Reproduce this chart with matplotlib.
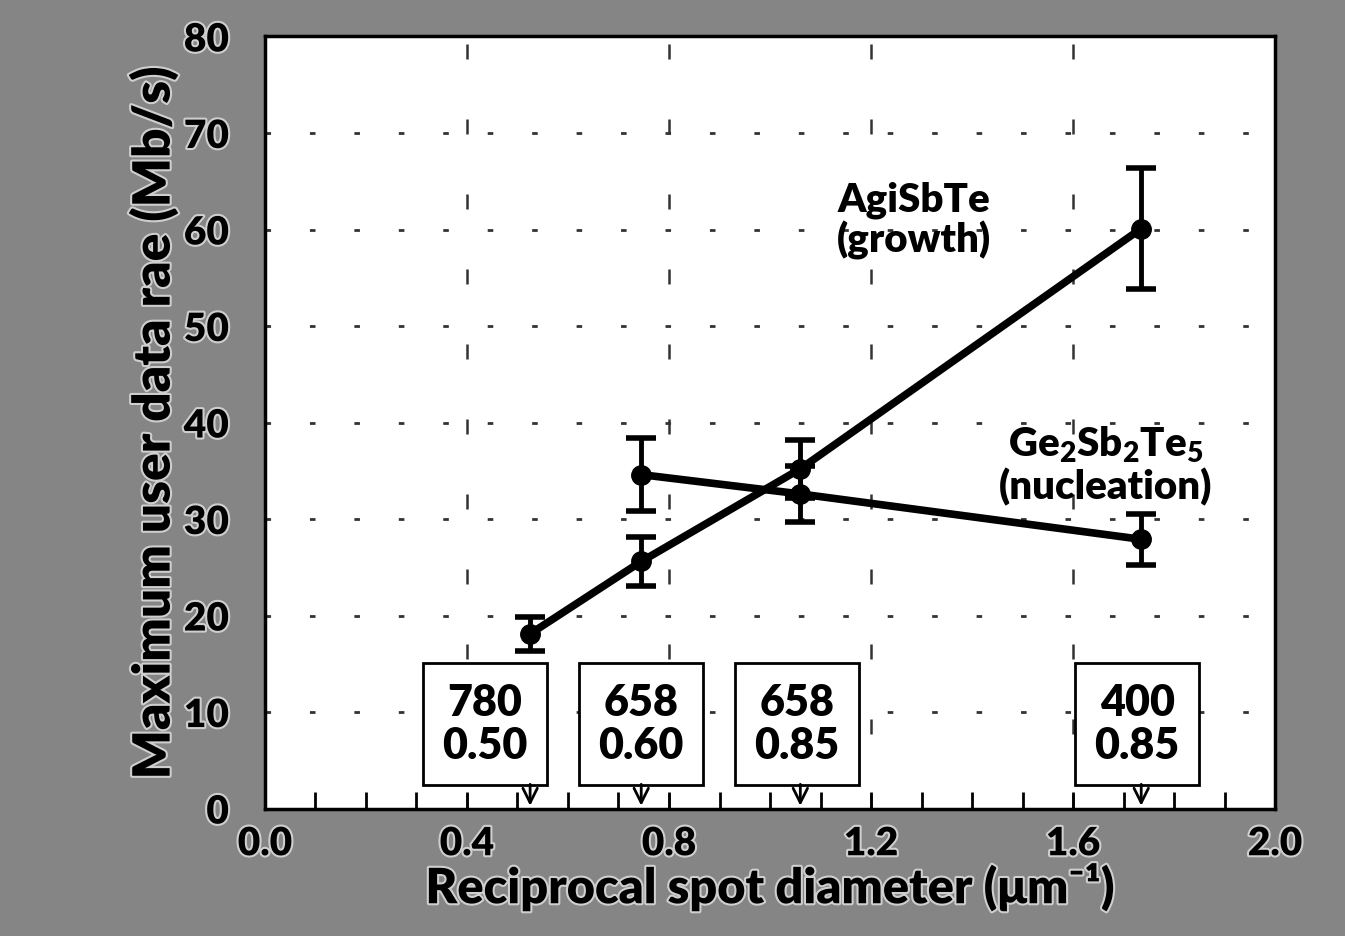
import matplotlib.pyplot as plt
import matplotlib.patheffects as pe

plt.rcParams['font.family'] = ['Lato', 'DejaVu Sans']
plt.rcParams['font.weight'] = 'heavy'
plt.rcParams['mathtext.fontset'] = 'custom'
plt.rcParams['mathtext.rm'] = 'Lato:heavy'
plt.rcParams['mathtext.bf'] = 'Lato:heavy'
plt.rcParams['mathtext.it'] = 'Lato:heavy'
plt.rcParams['mathtext.default'] = 'bf'

# Data
agi_x = [0.525, 0.745, 1.06, 1.735]
agi_y = [18.1, 25.6, 35.2, 60.1]
agi_err = [1.75, 2.55, 3.0, 6.3]

ge_x = [0.745, 1.06, 1.735]
ge_y = [34.6, 32.6, 27.9]
ge_err = [3.75, 2.9, 2.65]

# wavelength (nm) / NA boxes, with the arrow positions on the x axis
box_text = ["780\n0.50", "658\n0.60", "658\n0.85", "400\n0.85"]
box_x = [0.436, 0.745, 1.053, 1.727]
arrow_x = [0.525, 0.745, 1.06, 1.735]

x_ticks = [0.0, 0.4, 0.8, 1.2, 1.6, 2.0]
y_ticks = [0, 10, 20, 30, 40, 50, 60, 70, 80]

halo = [pe.withStroke(linewidth=3, foreground='#cfcfcf')]

fig = plt.figure(figsize=(13.45, 9.37), dpi=100, facecolor='#858585')
ax = fig.add_axes([0.197, 0.136, 0.751, 0.824])
ax.set_facecolor('white')

# grid
for yv in range(10, 80, 10):
    ax.axhline(yv, color='#333333', lw=2, ls=(0, (2, 14)), zorder=1)
for xv in [0.4, 0.8, 1.2, 1.6]:
    ax.axvline(xv, color='#333333', lw=1.8, ls=(0, (6, 24)), zorder=1)

# series
ax.errorbar(agi_x, agi_y, yerr=agi_err, color='black', lw=5.5, marker='o',
            markersize=14, capsize=11, capthick=4, elinewidth=3.5, zorder=4)
ax.errorbar(ge_x, ge_y, yerr=ge_err, color='black', lw=5.5, marker='o',
            markersize=14, capsize=11, capthick=4, elinewidth=3.5, zorder=4)

ax.text(1.285, 61.0, "AgiSbTe\n(growth)", ha='center', va='center',
        fontsize=29, fontweight='heavy', linespacing=1.05, zorder=5)
ax.text(1.665, 35.6, "Ge$_2$Sb$_2$Te$_5$\n(nucleation)", ha='center', va='center',
        fontsize=29, fontweight='heavy', linespacing=1.1, zorder=5)

for t, bx, axx in zip(box_text, box_x, arrow_x):
    ax.text(bx, 8.8, t, ha='center', va='center', fontsize=31, fontweight='heavy',
            linespacing=1.1, zorder=6,
            bbox=dict(boxstyle='square,pad=0.45', fc='white', ec='black', lw=2))
    ax.annotate('', xy=(axx, 0), xytext=(axx, 2.8),
                arrowprops=dict(arrowstyle='->', color='black', lw=2,
                                mutation_scale=26), zorder=6)

ax.set_xlim(0, 2.0)
ax.set_ylim(0, 79.4)
ax.set_xticks(x_ticks)
ax.set_xticklabels([f"{v:.1f}" for v in x_ticks])
ax.set_xticks([i / 10 for i in range(21)], minor=True)
ax.set_yticks(y_ticks)
ax.set_yticklabels([str(v) for v in y_ticks])
ax.tick_params(axis='x', which='both', direction='in', length=12, width=2,
               labelsize=28, pad=12)
ax.tick_params(axis='y', length=0, labelsize=28, pad=26)
for lab in ax.get_xticklabels() + ax.get_yticklabels():
    lab.set_fontweight('heavy')
    lab.set_path_effects(halo)

for sp in ax.spines.values():
    sp.set_linewidth(2.5)

xl = ax.set_xlabel("Reciprocal spot diameter (μm⁻¹)", fontsize=35,
                   fontweight='heavy', labelpad=0)
yl = ax.set_ylabel("Maximum user data rae (Mb/s)", fontsize=37,
                   fontweight='heavy', labelpad=4)
xl.set_path_effects(halo)
yl.set_path_effects(halo)

fig.savefig("out.png", dpi=100, facecolor=fig.get_facecolor())
